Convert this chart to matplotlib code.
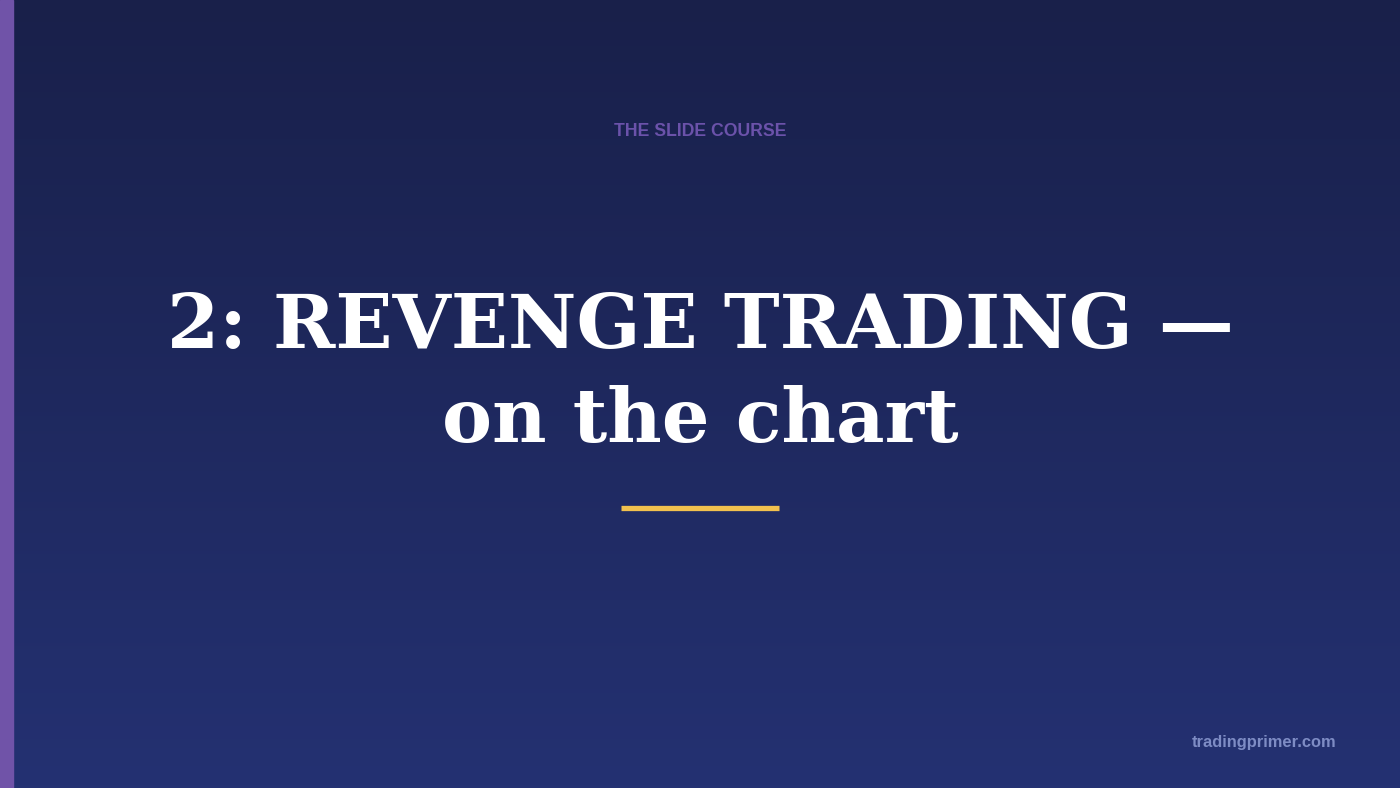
import numpy as np
import matplotlib.pyplot as plt
from matplotlib.colors import LinearSegmentedColormap

# Textos de la diapositiva
kicker = 'THE SLIDE COURSE'
title_lines = ['2: REVENGE TRADING —', 'on the chart']
footer = 'tradingprimer.com'

W, H = 1400, 788
fig = plt.figure(figsize=(14, 7.88), dpi=100)
ax = fig.add_axes([0, 0, 1, 1])
ax.set_xlim(0, W)
ax.set_ylim(H, 0)
ax.axis('off')

# Fondo degradado vertical
cmap = LinearSegmentedColormap.from_list('bg', ['#19204a', '#243172'])
grad = np.linspace(0, 1, 256).reshape(-1, 1)
ax.imshow(grad, cmap=cmap, extent=[0, W, H, 0], aspect='auto', zorder=0)

# Barra lateral morada
ax.add_patch(plt.Rectangle((0, 0), 13, H, color='#7053a8', zorder=1))

ax.text(700, 131, kicker, ha='center', va='center', fontsize=12.7,
        fontweight='bold', family='Liberation Sans', color='#6b52aa')

ax.text(700, 348, title_lines[0], ha='center', va='baseline', fontsize=54,
        fontweight='bold', family='DejaVu Serif', color='white')
ax.text(700, 442, title_lines[1], ha='center', va='baseline', fontsize=54,
        fontweight='bold', family='DejaVu Serif', color='white')

# Línea dorada
ax.plot([621, 779], [507.5, 507.5], color='#f2c14e', lw=3.8,
        solid_capstyle='butt', zorder=2)

ax.text(1336, 743, footer, ha='right', va='center', fontsize=11.9,
        fontweight='bold', family='Liberation Sans', color='#7e8cc4')

fig.savefig('out.png', dpi=100)
